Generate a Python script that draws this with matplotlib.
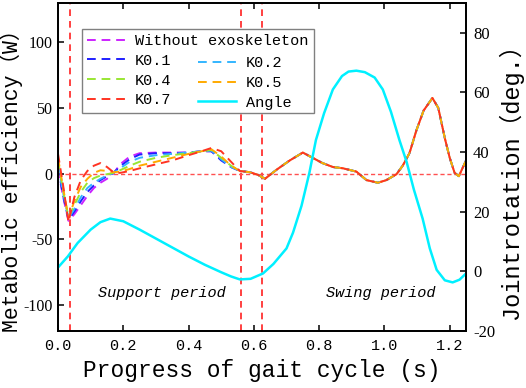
import matplotlib
matplotlib.use("Agg")
import matplotlib.pyplot as plt

plt.rcParams["axes.unicode_minus"] = False

# -----------------------------
# DATA
# -----------------------------
t_head = [0.0, 0.015, 0.032, 0.05, 0.07, 0.09, 0.11, 0.13, 0.15, 0.17,
          0.19, 0.22, 0.25, 0.3, 0.35, 0.4, 0.44, 0.47, 0.5, 0.53]
t_tail = [0.557, 0.588, 0.613, 0.634, 0.67, 0.71, 0.75, 0.78, 0.81, 0.842,
          0.873, 0.914, 0.945, 0.98, 1.006, 1.037, 1.056, 1.077, 1.098, 1.12,
          1.147, 1.165, 1.185, 1.2, 1.215, 1.228, 1.25]

# common part of all metabolic curves (swing period)
tail_vals = [2, 1, -1, -4, 3, 10, 16, 12, 8, 5,
             4, 1.5, -5, -7, -5, -0.5, 6, 15.7, 33, 48,
             57.6, 50, 27, 12, 0.5, -2, 10]

without_head = [3, -17, -36, -31, -24, -17, -11, -7, -4, 0, 7, 13, 15.5, 16, 16, 16, 17, 17, 11, 5]
k01_head = [5, -16, -35, -29, -21, -14, -9, -5, -2, 0.5, 5.5, 11, 14.5, 15.5, 15.5, 16, 17, 17, 10, 5]
k02_head = [7, -14, -34, -27, -18, -11, -7, -4, -1.5, 0.5, 4, 9, 12, 14, 15, 16, 17, 17.5, 11, 5]
k04_head = [10, -12, -33, -24, -14, -7, -3.5, -1.5, -0.5, 0.5, 2.5, 6, 9, 12, 14, 15.5, 17, 18, 12, 6]
k05_head = [12, -10, -34, -21, -10, -4, 0.5, 2.5, 2, 1, 1.5, 3.5, 6, 9, 12, 15, 17, 18.5, 13, 6]
k07_head = [15, -8, -37, -18, -5, 2, 6, 8, 5, 1, 0.5, 2, 4, 7, 10, 14, 17, 19.5, 17, 9]

series_labels = ["Without exoskeleton", "K0.1", "K0.2", "K0.4", "K0.5", "K0.7"]
series_heads = [without_head, k01_head, k02_head, k04_head, k05_head, k07_head]
series_colors = ["#cc22ff", "#1f1fff", "#33b5ff", "#99e633", "#ffaa00", "#ff3322"]

t_angle = [0.0, 0.03, 0.06, 0.1, 0.13, 0.16, 0.2, 0.25, 0.3, 0.35, 0.4, 0.45,
           0.5, 0.53, 0.557, 0.59, 0.628, 0.66, 0.7, 0.72, 0.746, 0.77, 0.79,
           0.815, 0.842, 0.87, 0.89, 0.914, 0.94, 0.97, 0.995, 1.02, 1.046,
           1.068, 1.09, 1.117, 1.139, 1.16, 1.185, 1.209, 1.23, 1.25]
angle = [1.3, 5, 9.5, 14, 16.5, 17.7, 16.8, 14, 11, 8, 5, 2.2,
         -0.3, -1.7, -2.7, -2.5, -0.7, 2.5, 7.7, 13, 22, 33, 44,
         53, 61, 65.5, 67, 67.3, 66.8, 65, 61, 53.5, 44,
         36.7, 27.5, 17.7, 7.7, 0.5, -3, -3.7, -2.8, -0.7]

phase_lines = [0.037, 0.56, 0.625]

MONO = ["Liberation Mono", "Noto Sans CJK SC"]

# -----------------------------
# FIGURE
# -----------------------------
fig = plt.figure(figsize=(5.26, 3.88), dpi=100)
ax1 = fig.add_axes([0.1103, 0.1469, 0.7757, 0.8454])
ax2 = ax1.twinx()

dash = (0, (4.5, 3))
lines = []
for lab, head, col in zip(series_labels, series_heads, series_colors):
    ln, = ax1.plot(t_head + t_tail, head + tail_vals, color=col, lw=1.4,
                   linestyle=dash, label=lab)
    lines.append(ln)

for x in phase_lines:
    ax1.axvline(x, color="#ff2020", lw=1.2, linestyle=(0, (4, 3)), zorder=1)
ax1.axhline(0, color="#ff5050", lw=1.0, linestyle=(0, (3, 2)), zorder=1)

angle_line, = ax2.plot(t_angle, angle, color="#00f0ff", lw=1.8, label="Angle")

ax1.set_xlim(0, 1.25)
ax1.set_ylim(-120, 130)
ax2.set_ylim(-20, 90)
ax1.set_xticks([0.0, 0.2, 0.4, 0.6, 0.8, 1.0, 1.2])
ax1.set_yticks([-100, -50, 0, 50, 100])
ax2.set_yticks([-20, 0, 20, 40, 60, 80])

ax1.tick_params(axis="x", direction="in", top=True, length=4, width=1.1, pad=6)
ax1.tick_params(axis="y", direction="in", length=4, width=1.1, pad=4)
ax2.tick_params(axis="y", direction="in", length=4, width=1.1, pad=5)
for lab in ax1.get_xticklabels():
    lab.set_fontfamily(MONO)
    lab.set_fontsize(11)
for lab in ax1.get_yticklabels():
    lab.set_fontfamily(["Liberation Serif"])
    lab.set_fontsize(11.5)
for lab in ax2.get_yticklabels():
    lab.set_fontfamily(["Liberation Serif"])
    lab.set_fontsize(12)

for ax in (ax1, ax2):
    for sp in ax.spines.values():
        sp.set_linewidth(1.3)

ax1.set_xlabel("Progress of gait cycle (s)", family=MONO, fontsize=16.5, labelpad=4)
ax1.set_ylabel("Metabolic efficiency（W）", family=MONO, fontsize=15.5)
ax1.yaxis.set_label_coords(-0.085, 0.476)
ax2.set_ylabel("Jointrotation（deg.）", family=MONO, fontsize=17)
ax2.yaxis.set_label_coords(1.078, 0.476)

ax1.text(0.318, -91, "Support period", family=MONO, style="italic",
         fontsize=11, ha="center", va="center")
ax1.text(0.989, -91, "Swing period", family=MONO, style="italic",
         fontsize=11, ha="center", va="center")

# legend: framed first column + unframed second column
leg_kw = dict(prop={"family": MONO, "size": 11}, handlelength=2.5,
              handletextpad=0.65, labelspacing=0.38, borderaxespad=0)
leg_a = ax2.legend([lines[0], lines[1], lines[3], lines[5]],
                   [series_labels[0], series_labels[1], series_labels[3], series_labels[5]],
                   loc="upper left", bbox_to_anchor=(0.058, 0.922),
                   frameon=True, fancybox=False, edgecolor="#808080",
                   framealpha=1, borderpad=0.35, **leg_kw)
leg_a.get_frame().set_linewidth(1.0)
ax2.add_artist(leg_a)
leg_b = ax2.legend([lines[2], lines[4], angle_line],
                   [series_labels[2], series_labels[4], "Angle"],
                   loc="center left", bbox_to_anchor=(0.343, 0.756),
                   frameon=False, borderpad=0, **leg_kw)
leg_b.set_zorder(6)

fig.savefig("out.png", dpi=100)
